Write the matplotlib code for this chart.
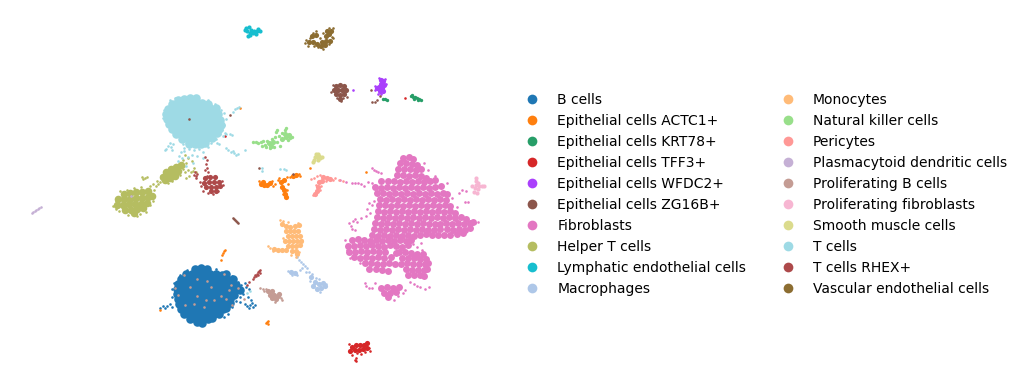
import matplotlib
matplotlib.use("Agg")
from matplotlib import pyplot as plt
from matplotlib.lines import Line2D
import numpy as np

# umap positions, one list per cell type
# *_core are the dense parts, *_fine the loose cells round them
b_core = [(195,269),(201,268),(207,269),(186,274),(192,274),(198,274),(204,274),(210,274),(216,274),(222,275),(226,274),
 (181,279),(187,279),(193,279),(199,279),(205,279),(211,279),(217,279),(223,279),(229,280),(233,279),
 (178,284),(184,284),(190,284),(196,284),(202,284),(208,284),(214,284),(220,284),(226,284),(232,284),(236,285),
 (177,289),(183,289),(189,289),(195,289),(201,289),(207,289),(213,289),(219,289),(225,289),(231,289),(237,289),(240,290),
 (177,294),(183,294),(189,294),(195,294),(201,294),(207,294),(213,294),(219,294),(225,294),(231,294),(234,295),
 (178,299),(184,299),(190,299),(196,299),(202,299),(208,299),(214,299),(220,299),(226,299),(230,299),
 (179,304),(185,304),(191,304),(197,304),(203,304),(209,304),(215,304),(221,304),(227,304),(230,303),
 (181,309),(187,309),(193,309),(199,309),(205,309),(211,309),(217,309),(223,309),(226,308),
 (184,314),(190,314),(196,314),(202,314),(208,314),(214,314),(219,314),
 (190,319),(196,319),(202,319),(208,319),(212,318),(197,322),(202,323)]
b_fine = [(160,308),(163,306),(167,306),(170,304),(172,307),(165,308),(241,285),(246,287),(249,289),(238,282),(245,283),
 (248,297),(250,305),(252,303),(255,305),(245,304),(240,297),(236,301),(232,307),(240,302),(249,308),(247,306),(251,300),
 (253,307),(243,294),(228,314),(224,317),(174,283),(172,289),(172,297),(180,275),(187,270),(216,269),(232,276)]
actc1_core = [(261,184),(264,185),(267,185),(270,183),(263,182),(281,182),(284,180),(282,187),(284,190),(285,194),(286,197),(296,175),(293,176)]
actc1_fine = [(259,181),(272,181),(275,184),(278,180),(273,186),(287,177),(279,178),(288,184),(287,190),(283,194),(299,174),(300,176),(290,177),(310,168),
 (222,255),(223,253),(224,251),(225,250),(221,260),(266,323),(267,322),(268,321),(268,324),(160,310),(240,108),(366,172)]
krt78 = [(411,96),(413,97),(415,97),(417,98),(419,99),(421,100),(414,99),(418,100),(412,95),(383,99),(385,99),(387,100)]
tff3_core = [(352,347),(356,345),(360,345),(364,345),(367,343),(355,350),(359,350),(363,349),(367,348),(350,351)]
tff3_fine = [(349,344),(369,348),(370,351),(357,353),(361,354),(365,352),(356,358),(356,361),(355,360),(352,355),(405,98),(225,136)]
wfdc2_core = [(381,80),(383,81),(381,84),(384,85),(379,87),(382,88),(377,88),(380,91),(383,91)]
wfdc2_fine = [(385,79),(379,78),(386,84),(375,86),(375,90),(378,94),(381,94),(353,90)]
zg16b_core = [(336,86),(340,85),(344,86),(334,90),(338,90),(342,90),(346,90),(336,94),(340,95),(344,94),(340,99)]
zg16b_fine = [(331,92),(333,85),(347,97),(343,98),(337,98),(341,101),(371,90),(380,96),(377,100),(375,102),(372,102),
 (233,218),(234,219),(235,220),(236,221),(237,222),(238,223),(293,174),(230,115),(189,119),(259,168)]
fibro_core = [(403,158),(409,157),(413,159),(400,163),(406,163),(412,164),(417,165),
 (398,169),(404,169),(410,169),(416,170),(421,169),(397,175),(403,175),(409,176),(415,175),(421,176),(426,178),
 (381,181),(388,181),(394,181),(400,182),(406,181),(412,182),(418,181),(424,182),(430,181),(435,180),
 (375,187),(381,188),(387,187),(393,188),(399,187),(405,188),(411,187),(417,188),(423,187),(429,188),(435,187),(441,186),
 (377,193),(383,193),(389,194),(395,193),(401,194),(407,193),(413,194),(419,193),(425,194),(431,193),(437,194),(443,193),(447,194),
 (380,199),(386,200),(392,199),(398,200),(404,199),(410,200),(416,199),(422,200),(428,199),(434,200),(440,199),(446,200),
 (379,205),(385,205),(391,206),(397,205),(403,206),(409,205),(415,206),(421,205),(427,206),(433,205),(439,206),(445,205),(450,206),
 (378,211),(384,212),(390,211),(396,212),(402,211),(408,212),(414,211),(420,212),(426,211),(432,212),(438,211),(444,212),(450,211),(455,213),
 (377,217),(383,218),(389,217),(395,218),(401,217),(407,218),(413,217),(419,218),(425,217),(431,218),(437,217),(443,218),(449,217),(455,218),(461,217),(466,219),
 (375,223),(381,224),(387,223),(393,224),(399,223),(405,224),(411,223),(417,224),(423,223),(429,224),(435,224),(440,224),(446,223),(452,224),(458,223),(464,224),(470,223),(473,222),
 (374,229),(380,230),(386,229),(392,230),(398,229),(404,230),(410,229),(416,230),(422,229),(428,230),(434,230),(440,229),(447,229),(453,230),(459,229),(465,230),(470,228),
 (372,235),(378,236),(384,235),(390,236),(396,235),(402,236),(408,235),(414,236),(420,235),(426,234),(432,235),(438,235),(444,235),(450,235),(457,234),(463,233),
 (352,240),(358,239),(364,240),(370,241),(376,240),(382,241),(388,240),(394,241),(400,240),(406,241),(411,240),
 (348,246),(354,246),(360,245),(366,246),(372,245),(378,246),(384,247),(390,245),(396,246),(402,247),(408,245),
 (349,252),(355,252),(361,251),(367,252),(373,251),(379,252),(385,252),(396,253),(399,252),(405,252),(411,253),(417,254),(423,254),
 (354,257),(360,258),(366,257),(372,258),(378,257),(384,258),(391,257),(402,258),(408,258),(414,258),(420,259),(426,259),
 (365,263),(371,263),(377,264),(383,264),(389,263),(395,264),(401,264),(407,263),(413,264),(419,264),(425,264),(428,263),
 (369,269),(376,269),(382,270),(388,271),(406,269),(412,270),(418,270),(424,270),(427,269),
 (408,275),(414,275),(420,275),(424,276),
 (381,288),(387,287),(393,288),(399,287),(384,293),(390,293),(396,292),(388,297)]
fibro_fine = [(372,168),(374,170),(376,171),(378,172),(381,173),(352,183),(355,183),(358,183),(361,184),(364,186),(372,183),(368,182),
 (349,223),(351,226),(353,221),(355,219),(357,222),(352,229),(355,230),(361,218),(366,216),(370,213),(367,209),(372,205),(369,203),(374,201),
 (459,193),(462,190),(466,191),(452,198),(465,202),(468,202),(457,207),(475,223),(478,222),(447,183),(435,176),(428,170),(424,163),
 (410,282),(414,284),(417,286),(420,287),(425,289),(429,287),(366,286),(369,288),(372,288),(365,283),(375,283),(403,293),(398,296),(394,300),(405,290),
 (413,244),(417,247),(422,250),(421,243),(345,240),(347,250),(350,258),(360,263),(340,180),(346,182)]
helper_core = [(124,194),(130,193),(136,192),(142,192),(148,191),(118,199),(124,199),(130,199),(136,198),(142,198),(148,197),(152,196),
 (117,205),(123,205),(129,204),(135,204),(141,204),(147,203),(125,210),(131,210),(137,209),(143,208),(134,213),
 (163,177),(168,175),(173,173),(178,171),(166,172),(171,169),(176,167),(181,165),(165,180),(170,178),(175,176)]
helper_fine = [(113,206),(116,209),(119,211),(128,215),(137,216),(140,214),(146,212),(150,205),(153,201),(154,190),(150,186),(153,184),(156,186),(158,184),
 (157,181),(161,176),(160,182),(143,179),(145,178),(147,177),(142,177),(168,183),(172,181),(180,175),(183,169),(185,172),(188,170),(191,172),(193,171),(189,176),(186,178),(184,166),
 (183,160),(186,163),(188,158),(192,161),(185,155),(194,168),(196,172),(116,201),(120,191),(127,190),(134,188),(141,187)]
lymph = [(246,28),(249,27),(251,30),(254,31),(257,31),(260,31),(247,31),(250,33),(253,33),(256,34),(250,35),(245,30),(248,36),(258,29)]
macro_core = [(311,277),(315,282),(319,284),(323,283),(313,286),(317,289),(321,288),(325,286),(291,272),(295,273)]
macro_fine = [(297,257),(299,260),(301,262),(303,264),(305,266),(307,268),(309,272),(306,272),(312,274),(316,278),(310,281),(319,279),(320,292),(288,271),(292,275),(297,275),(300,270),(326,284),(302,268)]
mono_core = [(282,224),(286,226),(290,227),(295,226),(299,225),(286,231),(290,231),(294,231),(298,231),(288,236),(292,236),(296,236),(300,236),(285,241),(289,241),(293,241),(297,241),(301,241),(288,246),(292,246),(296,246),(300,245),(292,251),(296,251),(274,249),(278,250),(282,250),(286,250),(297,254)]
mono_fine = [(280,220),(283,221),(298,223),(288,222),(270,248),(268,246),(273,251),(299,252),(302,240),(291,255),(296,257),(283,238)]
nk_core = [(271,146),(269,143),(273,142),(286,137),(282,139),(289,135),(285,134)]
nk_fine = [(253,142),(256,142),(258,143),(261,142),(262,146),(265,145),(267,141),(263,141),(266,147),(270,148),(272,139),(275,137),(277,142),(279,136),(276,132),(282,133),(285,130),(277,130),(290,138),(292,137),(288,140),(280,146),(286,128),(274,147)]
peri_core = [(323,177),(327,178),(330,179),(322,181),(319,182),(318,187),(317,191),(315,194)]
peri_fine = [(311,179),(314,178),(317,176),(320,175),(333,180),(335,178),(339,180),(316,185),(321,186),(320,190),(313,195),(343,181),(326,181)]
pdc = [(32,213),(33,212),(35,211),(36,210),(38,209),(39,208),(41,207),(131,196)]
prolif_b_core = [(268,291),(272,291),(270,295),(274,295),(278,296),(272,298),(276,299),(279,294)]
prolif_b_fine = [(260,288),(263,289),(266,289),(281,298),(282,300),(275,302),(264,291),(197,279),(207,281),(190,287),(211,287),(175,288),(178,295),(185,305),(204,307),(194,304),(206,300),(214,300),(229,290),(231,285),(184,275),(224,274),(226,299),(232,305),(244,299),(238,288),(197,296),(221,296)]
prolif_fib = [(476,181),(478,183),(476,185),(479,186),(482,186),(484,186),(475,188),(478,189),(474,192),(477,193),(472,186),(476,178)]
smooth = [(314,160),(315,157),(316,154),(318,154),(317,157),(319,156),(320,158),(318,160),(322,157),(313,162)]
t_core = [(178,100),(184,99),(190,98),(196,98),(172,104),(178,104),(184,104),(190,103),(196,103),(202,103),(208,104),
 (168,109),(174,109),(180,109),(186,109),(192,108),(198,108),(204,108),(210,108),(216,108),(166,114),(172,114),(178,114),(184,114),(190,114),(196,114),(202,114),(208,114),(214,114),(218,114),
 (167,119),(173,119),(179,119),(185,119),(191,119),(197,119),(203,119),(209,119),(215,119),(220,120),(169,124),(175,124),(181,124),(187,124),(193,124),(199,124),(205,124),(211,124),(217,124),(221,125),
 (172,129),(178,129),(184,129),(190,129),(196,129),(202,129),(208,129),(214,129),(219,129),(176,134),(182,134),(188,134),(194,134),(200,134),(206,134),(212,134),(217,133),
 (182,139),(188,139),(194,139),(200,139),(206,139),(212,138),(189,144),(195,144),(201,144),(205,143)]
t_fine = [(163,118),(164,110),(170,100),(175,98),(183,97),(197,96),(208,100),(215,104),(221,110),(224,113),(226,119),(224,125),(225,133),(220,134),(223,136),(226,134),(230,134),(232,135),(222,130),
 (216,139),(211,143),(208,147),(186,143),(183,144),(166,149),(168,146),(171,147),(173,144),(170,143),(172,150),(165,150),(181,152),(184,148),(189,149),(194,150),(198,147),(203,152),(197,156),(192,155),(188,157),
 (182,158),(178,161),(179,156),(193,163),(203,158),(186,166),(184,151),(217,143),(219,144),(226,148),(228,150),(231,152),(234,153),(236,155),(233,151),(238,154),(245,150),(233,112),(235,109),(237,108),(239,107),
 (262,168),(262,171),(284,169),(286,170),(280,169),(247,293),(250,291),(199,149)]
t_rhex_core = [(205,178),(210,177),(215,177),(204,183),(209,182),(214,182),(219,182),(206,187),(211,187),(216,187),(220,186),(211,191),(216,191)]
t_rhex_fine = [(207,160),(205,157),(206,164),(207,168),(205,170),(208,172),(207,176),(200,182),(201,186),(203,191),(222,181),(223,185),(195,172),(194,175),(196,176),(197,174),(196,178),(208,193),(213,194),(218,191),
 (253,279),(254,277),(255,275),(256,276),(257,274),(258,272),(259,271),(260,270),(260,273),(258,275),(249,282),(247,285)]
vasc_core = [(309,42),(313,42),(317,44),(322,42),(326,41),(330,41),(326,36),(329,34),(331,31),(327,31),(316,35),(312,36),(325,45),(321,46)]
vasc_fine = [(305,43),(306,40),(310,38),(313,33),(316,31),(323,33),(329,28),(333,28),(332,37),(333,38),(329,44),(323,49),(318,47),(308,46),(314,46),(320,38)]

categories = ['B cells', 'Epithelial cells ACTC1+', 'Epithelial cells KRT78+', 'Epithelial cells TFF3+',
              'Epithelial cells WFDC2+', 'Epithelial cells ZG16B+', 'Fibroblasts', 'Helper T cells',
              'Lymphatic endothelial cells', 'Macrophages', 'Monocytes', 'Natural killer cells',
              'Pericytes', 'Plasmacytoid dendritic cells', 'Proliferating B cells', 'Proliferating fibroblasts',
              'Smooth muscle cells', 'T cells', 'T cells RHEX+', 'Vascular endothelial cells']
colors = ['#1f77b4', '#ff7f0e', '#279e68', '#d62728', '#aa40fc', '#8c564b', '#e377c2', '#b5bd61',
          '#17becf', '#aec7e8', '#ffbb78', '#98df8a', '#ff9896', '#c5b0d5', '#c49c94', '#f7b6d2',
          '#dbdb8d', '#9edae5', '#ad494a', '#8c6d31']
core_sets = [b_core, actc1_core, [], tff3_core, wfdc2_core, zg16b_core, fibro_core, helper_core, [],
             macro_core, mono_core, nk_core, peri_core, [], prolif_b_core, [], [], t_core, t_rhex_core, vasc_core]
fine_sets = [b_fine, actc1_fine, krt78, tff3_fine, wfdc2_fine, zg16b_fine, fibro_fine, helper_fine, lymph,
             macro_fine, mono_fine, nk_fine, peri_fine, pdc, prolif_b_fine, prolif_fib, smooth, t_fine, t_rhex_fine, vasc_fine]
core_size = {'B cells': 38, 'T cells': 38, 'Fibroblasts': 25, 'Helper T cells': 30}
fine_size = {'Lymphatic endothelial cells': 9, 'Epithelial cells KRT78+': 6, 'Proliferating fibroblasts': 9,
             'Smooth muscle cells': 9, 'Natural killer cells': 6}

fig = plt.figure(figsize=(10.22, 3.89), dpi=100)
ax = fig.add_axes([0, 0, 1, 1])
ax.set_xlim(0, 1022)
ax.set_ylim(389, 0)
ax.axis('off')

for name, col, core in zip(categories, colors, core_sets):
    if core:
        pts = np.array(core)
        ax.scatter(pts[:, 0], pts[:, 1], s=core_size.get(name, 14), c=col, linewidths=0)
for name, col, fine in zip(categories, colors, fine_sets):
    pts = np.array(fine)
    ax.scatter(pts[:, 0], pts[:, 1], s=fine_size.get(name, 3.5), c=col, linewidths=0)

handles = [Line2D([], [], ls='', marker='o', ms=7, color=c, mew=0, label=n) for n, c in zip(categories, colors)]
ax.legend(handles=handles, ncol=2, frameon=False, loc='center left', fontsize=10,
          bbox_to_anchor=(0.495, 0.5), columnspacing=2.0, labelspacing=0.5, handletextpad=0.8)

fig.savefig('out.png', dpi=100)
